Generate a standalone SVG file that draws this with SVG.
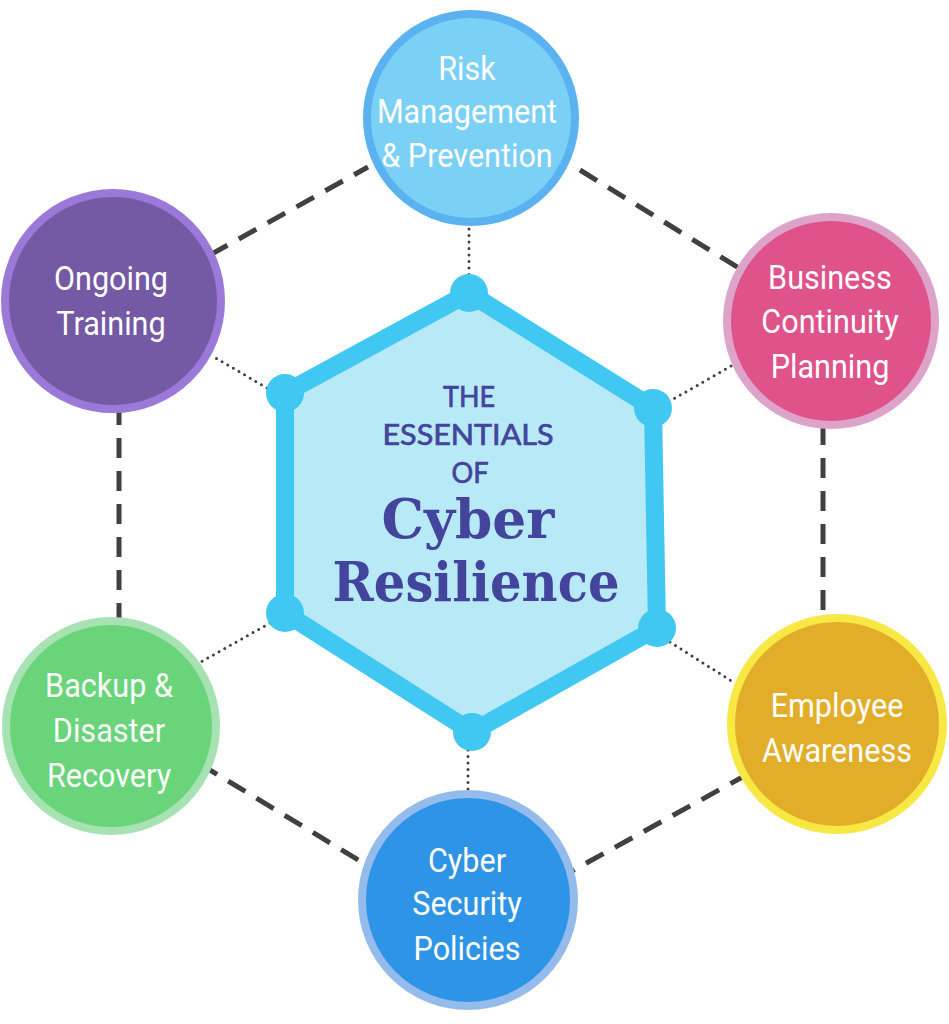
<svg xmlns="http://www.w3.org/2000/svg" width="949" height="1024" viewBox="0 0 949 1024">
<style>
.dash{stroke:#404040;stroke-width:5;stroke-dasharray:20 13;fill:none}
.dot{stroke:#404040;stroke-width:3;stroke-dasharray:0 6.5;stroke-linecap:round;fill:none}
.lbl{font-family:Roboto,"Liberation Sans",sans-serif;font-size:34px;fill:#ffffff;text-anchor:middle}
.hexdot{fill:#40c8f2}
.small{font-family:Lato,"DejaVu Sans",sans-serif;font-size:28px;fill:#43459c;stroke:#43459c;stroke-width:0.7;text-anchor:middle}
.big{font-family:"DejaVu Serif","Liberation Serif",serif;font-size:55px;font-weight:bold;fill:#43459c;text-anchor:middle}
</style>
<rect width="949" height="1024" fill="#ffffff"/>
<g id="connectors">
<line class="dash" x1="210" y1="255" x2="368" y2="167"/>
<line class="dash" x1="580" y1="170" x2="742" y2="270"/>
<line class="dash" x1="119" y1="405" x2="119" y2="620"/>
<line class="dash" x1="823" y1="425" x2="823" y2="615"/>
<line class="dash" x1="200" y1="764" x2="365" y2="864"/>
<line class="dash" x1="748" y1="774" x2="572" y2="871"/>
<line class="dot" x1="469" y1="229" x2="469" y2="276"/>
<line class="dot" x1="731" y1="366" x2="670" y2="401"/>
<line class="dot" x1="670" y1="642" x2="733" y2="682"/>
<line class="dot" x1="468" y1="750" x2="468" y2="790"/>
<line class="dot" x1="270" y1="623" x2="199" y2="663"/>
<line class="dot" x1="267" y1="388" x2="214" y2="357"/>
</g>
<g id="hub">
<polygon points="469,293 653,408 657,628 472,732 285,613 285,393" fill="#b8e9f7" stroke="#40c8f2" stroke-width="18" stroke-linejoin="round"/>
<circle class="hexdot" cx="469" cy="293" r="19"/>
<circle class="hexdot" cx="653" cy="408" r="19"/>
<circle class="hexdot" cx="657" cy="628" r="19"/>
<circle class="hexdot" cx="472" cy="732" r="19"/>
<circle class="hexdot" cx="285" cy="613" r="19"/>
<circle class="hexdot" cx="285" cy="393" r="19"/>
<text class="small" x="469" y="407" textLength="52" lengthAdjust="spacingAndGlyphs">THE</text>
<text class="small" x="468" y="445" textLength="171" lengthAdjust="spacingAndGlyphs">ESSENTIALS</text>
<text class="small" x="470" y="483" textLength="37" lengthAdjust="spacingAndGlyphs">OF</text>
<text class="big" x="468" y="538" textLength="173" lengthAdjust="spacingAndGlyphs">Cyber</text>
<text class="big" x="476" y="601" textLength="287" lengthAdjust="spacingAndGlyphs">Resilience</text>
</g>
<g id="risk">
<circle cx="471" cy="118" r="104" fill="#7bd0f6" stroke="#5bb2f1" stroke-width="8"/>
<g transform="translate(467,0) scale(0.9,1)" class="lbl">
<text x="0" y="80">Risk</text>
<text x="0" y="123">Management</text>
<text x="0" y="167">&amp; Prevention</text>
</g>
</g>
<g id="training">
<circle cx="113" cy="301" r="108" fill="#7459a4" stroke="#9b79d9" stroke-width="8"/>
<g transform="translate(111,0) scale(0.9,1)" class="lbl">
<text x="0" y="290">Ongoing</text>
<text x="0" y="335">Training</text>
</g>
</g>
<g id="business">
<circle cx="831" cy="321" r="104" fill="#e0528a" stroke="#dda3c8" stroke-width="8"/>
<g transform="translate(830,0) scale(0.9,1)" class="lbl">
<text x="0" y="289">Business</text>
<text x="0" y="333">Continuity</text>
<text x="0" y="378">Planning</text>
</g>
</g>
<g id="employee">
<circle cx="837" cy="724" r="106" fill="#e2ae2a" stroke="#f7e843" stroke-width="8"/>
<g transform="translate(837,0) scale(0.9,1)" class="lbl">
<text x="0" y="717">Employee</text>
<text x="0" y="762">Awareness</text>
</g>
</g>
<g id="backup">
<circle cx="111" cy="726" r="105" fill="#69d47a" stroke="#a7e2b2" stroke-width="8"/>
<g transform="translate(109,0) scale(0.9,1)" class="lbl">
<text x="0" y="697">Backup &amp;</text>
<text x="0" y="742">Disaster</text>
<text x="0" y="787">Recovery</text>
</g>
</g>
<g id="policies">
<circle cx="468" cy="900" r="106" fill="#2d94e8" stroke="#93bced" stroke-width="8"/>
<g transform="translate(467,0) scale(0.9,1)" class="lbl">
<text x="0" y="872">Cyber</text>
<text x="0" y="915">Security</text>
<text x="0" y="960">Policies</text>
</g>
</g>
</svg>
